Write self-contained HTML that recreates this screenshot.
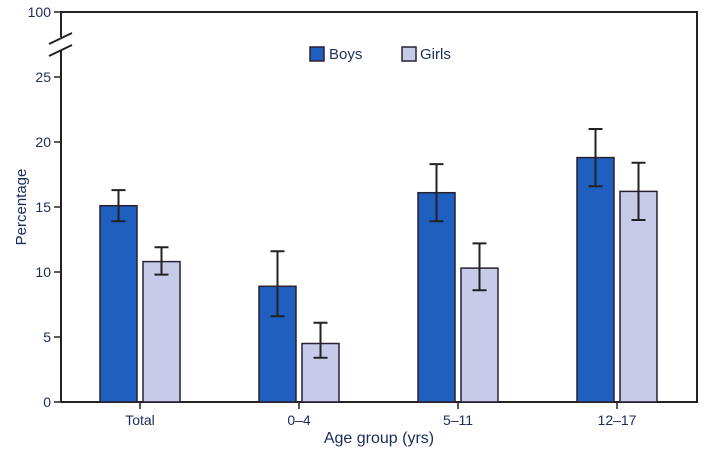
<!DOCTYPE html>
<html><head><meta charset="utf-8"><style>
body{margin:0;background:#fff;}
svg{display:block;font-family:"Liberation Sans Narrow","Liberation Sans",sans-serif;}
</style></head><body>
<svg id="chart" width="712" height="456" viewBox="0 0 712 456" xmlns="http://www.w3.org/2000/svg"></svg>
<script>
const categories = ["Total","0\u20134","5\u201311","12\u201317"];
const boysValues = [15.1, 8.9, 16.1, 18.8];
const boysLow = [13.9, 6.6, 13.9, 16.6];
const boysHigh = [16.3, 11.6, 18.3, 21.0];
const girlsValues = [10.8, 4.5, 10.3, 16.2];
const girlsLow = [9.8, 3.4, 8.6, 14.0];
const girlsHigh = [11.9, 6.1, 12.2, 18.4];
const yTicks = [0,5,10,15,20,25];
const yTickLabels = ["0","5","10","15","20","25"];

const NS="http://www.w3.org/2000/svg";
const svg=document.getElementById('chart');
const X0=61, X1=697, Y0=402, Y25=77;
function y(v){return Y0-(v/25)*(Y0-Y25);}
function cx(i){return 140+i*159;}
function mk(tag,attrs,parent){const e=document.createElementNS(NS,tag);for(const k in attrs)e.setAttribute(k,attrs[k]);(parent||svg).appendChild(e);return e;}

// frame
let e;
e=mk('path',{d:`M${X0} ${Y0}H${X1}V12H${X0}V37M${X0} 51V${Y0}`,fill:'none',stroke:'#222',"stroke-width":2});


e=mk('path',{d:'M49 44L72 33M49 56L72 45',stroke:'#222',"stroke-width":2});


// 100 tick
e=mk('line',{x1:54,x2:X0,y1:12,y2:12,stroke:'#222',"stroke-width":1.5});


e=mk('text',{x:51,y:17,"text-anchor":'end',"font-size":14,fill:'#1b2b5c'});e.textContent='100';


yTicks.forEach((t,i)=>{
  e=mk('line',{x1:54,x2:X0,y1:y(t),y2:y(t),stroke:'#222',"stroke-width":1.5});
  
  
  e=mk('text',{x:51,y:y(t)+5,"text-anchor":'end',"font-size":14,fill:'#1b2b5c'});e.textContent=yTickLabels[i];
  
  
});
e=mk('text',{x:26,y:207,"text-anchor":'middle',"font-size":15,fill:'#1b2b5c',transform:'rotate(-90 26 207)'});e.textContent='Percentage';


e=mk('text',{x:379,y:443,"text-anchor":'middle',"font-size":16,fill:'#1b2b5c'});e.textContent='Age group (yrs)';



function bar(xl,v,lo,hi,fill,name){
  const r=mk('rect',{x:xl,y:y(v),width:37,height:Y0-y(v),fill:fill,stroke:'#2a2030',"stroke-width":1.5});
  
  
  const m=xl+18.5;
  const eb=mk('path',{d:`M${m} ${y(hi)}V${y(lo)}M${m-7} ${y(hi)}H${m+7}M${m-7} ${y(lo)}H${m+7}`,stroke:'#222',"stroke-width":2,fill:'none'});
  
  
}
categories.forEach((c,i)=>{
  const c0=cx(i);
  bar(c0-40,boysValues[i],boysLow[i],boysHigh[i],'#1f5fc0','bar-boys-'+i);
  bar(c0+3,girlsValues[i],girlsLow[i],girlsHigh[i],'#c5cbe9','bar-girls-'+i);
  e=mk('line',{x1:c0,x2:c0,y1:Y0,y2:Y0+7,stroke:'#222',"stroke-width":1.5});
  
  
  e=mk('text',{x:c0,y:425,"text-anchor":'middle',"font-size":14,fill:'#1b2b5c'});e.textContent=c;
  
  
});
// legend
e=mk('rect',{x:310,y:47,width:14,height:14,fill:'#1f5fc0',stroke:'#2a2030',"stroke-width":1.5});


e=mk('text',{x:329,y:59,"font-size":15,fill:'#1b2b5c'});e.textContent='Boys';


e=mk('rect',{x:402,y:47,width:14,height:14,fill:'#c5cbe9',stroke:'#2a2030',"stroke-width":1.5});


e=mk('text',{x:420,y:59,"font-size":15,fill:'#1b2b5c'});e.textContent='Girls';


</script>
</body></html>
